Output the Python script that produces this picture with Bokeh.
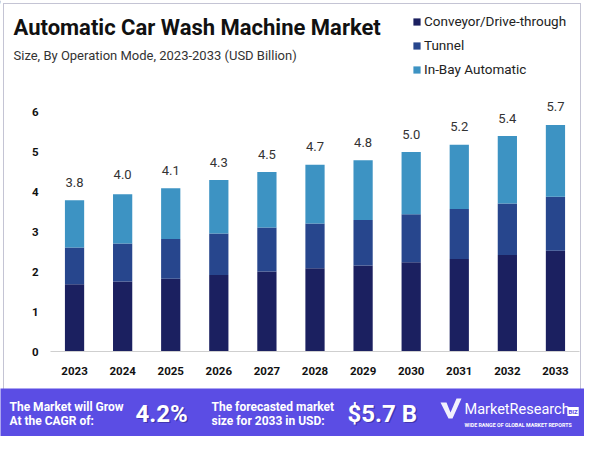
from bokeh.plotting import figure
from bokeh.layouts import column
from bokeh.models import (FactorRange, Range1d, Label, Legend, LegendItem, FixedTicker,
                          ColumnDataSource)
from bokeh.core.properties import value
from bokeh.embed import file_html
from bokeh.resources import INLINE

# ---------------- data ----------------
years = ["2023", "2024", "2025", "2026", "2027", "2028", "2029", "2030", "2031", "2032", "2033"]
conveyor = [1.68, 1.75, 1.82, 1.91, 2.00, 2.08, 2.15, 2.23, 2.31, 2.41, 2.52]
tunnel = [0.92, 0.95, 0.99, 1.04, 1.10, 1.12, 1.14, 1.20, 1.25, 1.29, 1.35]
inbay = [1.18, 1.23, 1.27, 1.34, 1.39, 1.47, 1.49, 1.56, 1.61, 1.69, 1.79]
totals = [3.8, 4.0, 4.1, 4.3, 4.5, 4.7, 4.8, 5.0, 5.2, 5.4, 5.7]
total_labels = ["3.8", "4.0", "4.1", "4.3", "4.5", "4.7", "4.8", "5.0", "5.2", "5.4", "5.7"]
series = ["Conveyor/Drive-through", "Tunnel", "In-Bay Automatic"]
y_ticks = [0, 1, 2, 3, 4, 5, 6]

title_text = "Automatic Car Wash Machine Market"
subtitle_text = "Size, By Operation Mode, 2023-2033 (USD Billion)"
cagr_lines = ["The Market will Grow", "At the CAGR of:"]
cagr_text = "4.2%"
forecast_lines = ["The forecasted market", "size for 2033 in USD:"]
forecast_text = "$5.7 B"

colors = ["#1b2060", "#27468d", "#3d93c3"]
FONT = "Roboto"
BANNER = "#5b4de4"
W = 584


def bare(fig):
    fig.outline_line_color = None
    fig.grid.visible = False
    fig.toolbar_location = None
    fig.frame_align = False


# ---------------- header (title, subtitle, legend) ----------------
H1 = 80
header = figure(width=W, height=H1, x_range=Range1d(0, W), y_range=Range1d(H1, 0),
                x_axis_type=None, y_axis_type=None, output_backend="svg",
                toolbar_location=None, min_border=0, title=None)
bare(header)
header.background_fill_alpha = 0
header.border_fill_alpha = 0

header.add_layout(Label(x=13, y=27, text=title_text, text_font=FONT, text_font_style="bold",
                        text_font_size="22px", text_color="#111111", text_baseline="middle"))
header.add_layout(Label(x=13, y=55, text=subtitle_text, text_font=FONT,
                        text_font_size="13px", text_color="#333333", text_baseline="middle"))

# legend swatches: the same stacked-bar glyphs, parked outside the visible header range
legend_src = ColumnDataSource(dict(year=[-1000], conveyor=[1], tunnel=[1], inbay=[1]))
leg_rs = header.vbar_stack(["conveyor", "tunnel", "inbay"], x="year", width=0.4,
                           color=colors, line_color=None, source=legend_src)
legend = Legend(items=[LegendItem(label=s, renderers=[r]) for s, r in zip(series, leg_rs)],
                location=(412, 1), orientation="vertical", padding=0, margin=0,
                spacing=4, label_height=20, glyph_height=9, glyph_width=9,
                label_standoff=3, border_line_color=None, background_fill_alpha=0,
                label_text_font=FONT, label_text_font_size="13.5px",
                label_text_color="#222222")
header.add_layout(legend)

# ---------------- chart ----------------
H2 = 308
src = ColumnDataSource(dict(year=years, conveyor=conveyor, tunnel=tunnel, inbay=inbay,
                            total=totals, label=total_labels))

p = figure(width=W, height=H2, title=None,
           x_range=FactorRange(*years), y_range=Range1d(0, 6.5),
           output_backend="svg", toolbar_location=None,
           min_border_left=50, min_border_right=5, min_border_top=11, min_border_bottom=37)
bare(p)
p.background_fill_alpha = 0
p.border_fill_alpha = 0

p.vbar_stack(["conveyor", "tunnel", "inbay"], x="year", width=0.4, color=colors,
             line_color=None, source=src)

p.text(x="year", y="total", text="label", source=src, text_align="center",
       text_baseline="middle", y_offset=-17, text_font_size="13px", text_color="#333333",
       text_font=value(FONT))

p.xaxis.axis_line_color = "#cfcfcf"
p.xaxis.major_tick_line_color = None
p.xaxis.minor_tick_line_color = None
p.xaxis.major_tick_out = 0
p.xaxis.major_label_standoff = 15
p.xaxis.major_label_text_font = FONT
p.xaxis.major_label_text_font_style = "bold"
p.xaxis.major_label_text_font_size = "11.5px"
p.xaxis.major_label_text_color = "#111111"

p.yaxis.ticker = FixedTicker(ticks=y_ticks)
p.yaxis.axis_line_color = None
p.yaxis.major_tick_line_color = None
p.yaxis.minor_tick_line_color = None
p.yaxis.major_tick_out = 0
p.yaxis.major_label_standoff = 12
p.yaxis.major_label_text_font = FONT
p.yaxis.major_label_text_font_style = "bold"
p.yaxis.major_label_text_font_size = "11.5px"
p.yaxis.major_label_text_color = "#111111"

# ---------------- bottom banner ----------------
H3 = 48
banner = figure(width=W, height=H3, x_range=Range1d(0, W), y_range=Range1d(H3, 0),
                x_axis_type=None, y_axis_type=None, output_backend="svg",
                toolbar_location=None, min_border=0, title=None)
bare(banner)
banner.background_fill_color = BANNER
banner.border_fill_color = BANNER


def lab(x, y, t, size, bold=True, color="white", alpha=1.0, **kw):
    banner.add_layout(Label(x=x, y=y, text=t, text_font=FONT,
                            text_font_style="bold" if bold else "normal",
                            text_font_size=size, text_color=color, text_alpha=alpha,
                            text_baseline="middle", **kw))


lab(9, 18, cagr_lines[0], "12px")
lab(9, 32, cagr_lines[1], "12px")
lab(136.5, 26.5, cagr_text, "24px", color="#231a6e", alpha=0.45)
lab(135, 25, cagr_text, "24px")
lab(211, 18, forecast_lines[0], "12px")
lab(211, 32, forecast_lines[1], "12px")
lab(348.5, 26.5, forecast_text, "24px", color="#231a6e", alpha=0.45)
lab(347, 25, forecast_text, "24px")

# logo
banner.patch(x=[440, 446, 450, 456, 461, 452, 448], y=[14, 14, 24, 10, 10, 30, 30],
             fill_color="white", fill_alpha=0.92, line_color=None)
lab(464, 21, "MarketResearch", "14.5px", bold=False)
lab(567, 23, "BIZ", "6px", color=BANNER, background_fill_color="white", padding=1)
lab(464, 36, "WIDE RANGE OF GLOBAL MARKET REPORTS", "5.3px")

layout = column(header, p, banner, spacing=0,
                styles={"box-shadow": "inset 0 0 0 3px #ffffff, inset 0 0 0 4px #c4c4d4"})

open("out.html", "w").write(file_html(layout, INLINE))
